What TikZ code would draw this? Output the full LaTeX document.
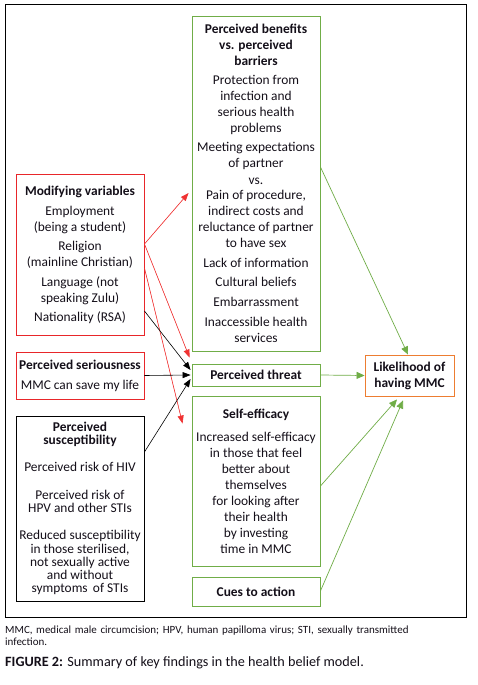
\documentclass[tikz,border=0pt]{standalone}
\usepackage{fontspec}
\setmainfont{Carlito}
\usetikzlibrary{arrows.meta}
\definecolor{bred}{RGB}{232,38,42}
\definecolor{ared}{RGB}{240,50,50}
\definecolor{bgreen}{RGB}{112,173,71}
\definecolor{borange}{RGB}{237,125,49}
\definecolor{txt}{RGB}{20,15,25}
\newcommand{\bxfont}{\fontsize{13.4}{16}\selectfont}
\newcommand{\susfont}{\fontsize{13.4}{13.3}\selectfont}
\tikzset{
  boxnode/.style={draw, line width=0.9pt, minimum width=128pt, inner sep=0pt, align=center, font=\bxfont, text=txt},
  redbox/.style={boxnode, draw=bred},
  greenbox/.style={boxnode, draw=bgreen},
  blackbox/.style={boxnode, draw=black},
  orangebox/.style={boxnode, draw=borange, minimum width=89pt},
  redarrow/.style={draw=ared, line width=0.6pt, -{Triangle[length=8pt,width=6pt]}, fill=ared},
  blackarrow/.style={draw=black, line width=0.6pt, -{Triangle[length=8pt,width=6pt]}},
  greenarrow/.style={draw=bgreen, line width=0.7pt, -{Triangle[length=8pt,width=7pt]}},
}
\begin{document}
\begin{tikzpicture}[x=1pt,y=-1pt]
\useasboundingbox[fill=white] (0,0) rectangle (477,685);
\draw[line width=1pt] (5,5) rectangle (466,617);

\node[greenbox, minimum height=335pt] (ben) at (256,183.5) {%
\textbf{Perceived benefits}\\ \textbf{vs. perceived}\\ \textbf{barriers}\\[3pt]
Protection from\\ infection and\\ serious health\\ problems\\[3pt]
Meeting expectations\\ of partner\\[1pt] vs.\\[-1pt] Pain of procedure,\\ indirect costs and\\ reluctance of partner\\ to have sex\\[4pt]
Lack of information\\[3pt] Cultural beliefs\\[4pt] Embarrassment\\[4pt] Inaccessible health\\ services};

\node[redbox, minimum height=161pt] (mod) at (80,254.5) {%
\textbf{Modifying variables}\\[4pt] Employment\\ (being a student)\\[3pt] Religion\\ (mainline Christian)\\[4pt] Language (not\\ speaking Zulu)\\[3pt] Nationality (RSA)};

\node[redbox, minimum height=47pt] (ser) at (80,375.5) {%
\textbf{Perceived seriousness}\\[4pt] MMC can save my life};

\node[greenbox, minimum height=22pt] (thr) at (256,375) {\textbf{Perceived threat}};

\node[orangebox, minimum height=41pt] (lik) at (409.5,375.5) {\textbf{Likelihood of}\\ \textbf{having MMC}};

\node[greenbox, minimum height=170pt] (sef) at (256,481) {%
\textbf{Self-efficacy}\\[7pt] Increased self-efficacy\\ in those that feel\\ better about\\ themselves\\ for looking after\\ their health\\ by investing\\ time in MMC};

\node[blackbox, minimum height=185pt, font=\susfont] (sus) at (80,508.5) {%
\textbf{Perceived}\\ \textbf{susceptibility}\\[14pt] Perceived risk of HIV\\[14pt] Perceived risk of\\ HPV and other STIs\\[14pt] Reduced susceptibility\\ in those sterilised,\\ not sexually active\\ and without\\ symptoms\ \,of STIs};

\node[greenbox, minimum height=29pt] (cue) at (256,591.5) {\textbf{Cues to action}};

% arrows
\draw[redarrow] ([yshift=10.5pt]mod.east) -- ([xshift=-3pt,yshift=-9.5pt]ben.west);
\draw[redarrow] ([yshift=10.5pt]mod.east) -- ([xshift=-2pt,yshift=6pt]thr.north west);
\draw[redarrow] ([yshift=-13.5pt]mod.east) -- ([xshift=-9pt,yshift=-28pt]sef.north west);
\draw[blackarrow] ([yshift=-56.5pt]mod.east) -- ([xshift=-1pt,yshift=5pt]thr.west);
\draw[blackarrow] (ser.east) -- ([xshift=-1pt]thr.west);
\draw[blackarrow] ([yshift=56.5pt]sus.east) -- ([xshift=-1pt,yshift=-4pt]thr.west);
\draw[greenarrow] ([yshift=16.5pt]ben.east) -- ([xshift=-1.5pt]lik.north);
\draw[greenarrow] (thr.east) -- (lik.west);
\draw[greenarrow] ([yshift=-5pt]sef.east) -- ([xshift=-12.5pt,yshift=-3pt]lik.south);
\draw[greenarrow] ([yshift=0.5pt]cue.east) -- ([xshift=-6.5pt,yshift=-4pt]lik.south);

% caption
\node[anchor=north west, inner sep=0pt, text width=460pt, font=\fontsize{11}{12.5}\selectfont, text=txt] (note) at (5,625.5) {%
\hyphenpenalty=10000 \noindent MMC, medical male circumcision; HPV, human papilloma virus; STI, sexually transmitted\linebreak infection.};
\node[anchor=west, inner sep=0pt, font=\fontsize{14.2}{16}\selectfont, text=txt] (cap) at (5,663) {\textbf{FIGURE 2:} Summary of key findings in the health belief model.};
\end{tikzpicture}
\end{document}
